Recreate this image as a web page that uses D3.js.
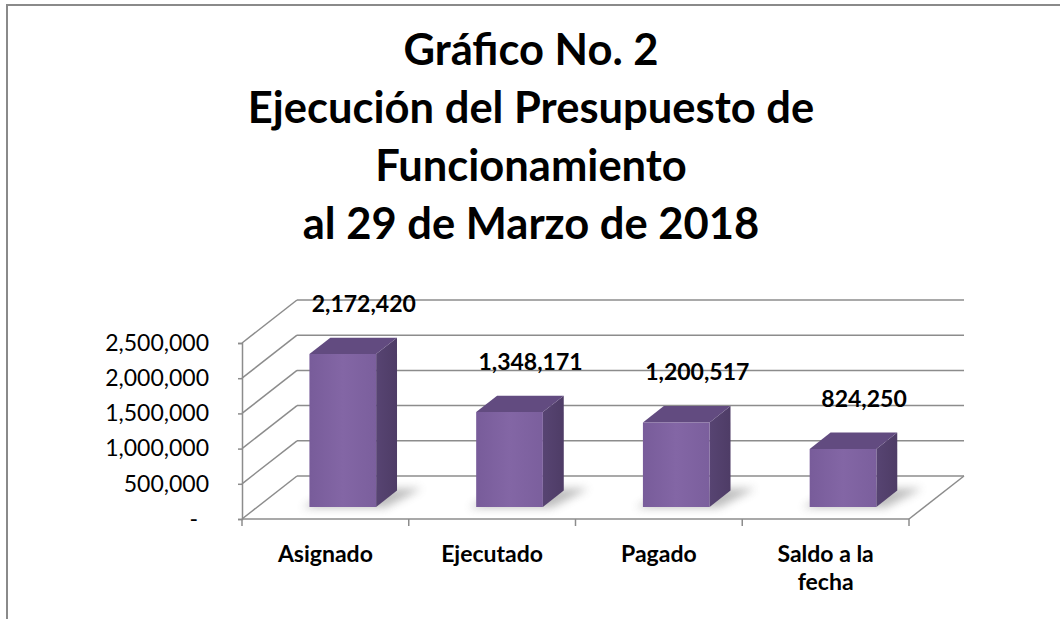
<!DOCTYPE html>
<html lang="es">
<head>
<meta charset="UTF-8">
<title>Gráfico No. 2</title>
<script src="https://d3js.org/d3.v7.min.js"></script>
<style>
  body { margin: 0; background: #fff; }
  svg text { font-family: Lato, "Open Sans", sans-serif; fill: #000; }
</style>
</head>
<body>
<script>
var categories = ["Asignado", "Ejecutado", "Pagado", "Saldo a la fecha"];
var values = [2172420, 1348171, 1200517, 824250];
var yTicks = [0, 500000, 1000000, 1500000, 2000000, 2500000];
var titleLines = ["Gráfico No. 2", "Ejecución del Presupuesto de", "Funcionamiento", "al 29 de Marzo de 2018"];

var width = 1060, height = 619;
// 3d depth of the floor / walls
var DX = 55, DY = 43;
// bar occupies this slice of the depth
var d0 = 0.28, d1 = 0.66;

var svg = d3.select("body").append("svg")
    .attr("width", width).attr("height", height);

var defs = svg.append("defs");
var g1 = defs.append("linearGradient").attr("id", "front");
g1.append("stop").attr("offset", "0%").attr("stop-color", "#785c9a");
g1.append("stop").attr("offset", "50%").attr("stop-color", "#8366a5");
g1.append("stop").attr("offset", "100%").attr("stop-color", "#7b5f9d");
var g2 = defs.append("linearGradient").attr("id", "side");
g2.append("stop").attr("offset", "0%").attr("stop-color", "#574472");
g2.append("stop").attr("offset", "100%").attr("stop-color", "#4e3c66");
defs.append("filter").attr("id", "blur")
    .attr("x", "-50%").attr("y", "-50%").attr("width", "200%").attr("height", "200%")
    .append("feGaussianBlur").attr("stdDeviation", 4);

// outer frame (only top and left edges are inside the picture)
svg.append("path")
    .attr("d", "M7,619 V5 H1060")
    .attr("fill", "none").attr("stroke", "#8a8a8a").attr("stroke-width", 2);

// title
svg.append("g").selectAll("text")
    .data(titleLines)
    .enter().append("text")
    .attr("x", 531)
    .attr("y", function(d, i) { return 65 + i * 58; })
    .attr("text-anchor", "middle")
    .attr("font-size", 43.5)
    .attr("font-weight", "bold")
    .text(function(d) { return d; });

var x = d3.scaleBand().domain(categories).range([242, 909]);
var y = d3.scaleLinear().domain([0, 2500000]).range([519, 343]);

function p(px, v, d) {
    return [px + d * DX, y(v) - d * DY];
}

var grid = svg.append("g")
    .attr("stroke", "#8c8c8c").attr("stroke-width", 1.5).attr("fill", "none");

// back wall lines
grid.selectAll(".back").data(yTicks).enter().append("line")
    .attr("x1", 242 + DX).attr("x2", 909 + DX)
    .attr("y1", function(d) { return y(d) - DY; })
    .attr("y2", function(d) { return y(d) - DY; });
// side wall lines
grid.selectAll(".side").data(yTicks).enter().append("line")
    .attr("x1", 242).attr("x2", 242 + DX)
    .attr("y1", function(d) { return y(d); })
    .attr("y2", function(d) { return y(d) - DY; });
// floor right edge
grid.append("line")
    .attr("x1", 909).attr("y1", y(0))
    .attr("x2", 909 + DX).attr("y2", y(0) - DY);

// y axis
var yAxis = d3.axisLeft(y)
    .tickValues(yTicks)
    .tickSize(4)
    .tickPadding(29)
    .tickFormat(function(d) { return d === 0 ? "-" : d3.format(",")(d); });
var ya = svg.append("g")
    .attr("transform", "translate(242,0)")
    .call(yAxis);
ya.select(".domain").attr("stroke", "#8c8c8c").attr("stroke-width", 1.5);
ya.selectAll(".tick line").attr("stroke", "#8c8c8c").attr("stroke-width", 1.5);
ya.selectAll(".tick text")
    .attr("font-size", 23)
    .attr("font-family", "Lato, sans-serif")
    .attr("fill", "#000")
    .attr("dx", function(d) { return d === 0 ? -11 : 0; });

// x axis line and ticks on band edges
var edges = categories.map(function(c) { return x(c); }).concat([x.range()[1]]);
var xa = svg.append("g").attr("stroke", "#8c8c8c").attr("stroke-width", 1.5);
xa.append("line")
    .attr("x1", 242).attr("x2", 909)
    .attr("y1", y(0)).attr("y2", y(0));
xa.selectAll(".tk").data(edges).enter().append("line")
    .attr("x1", function(d) { return d; }).attr("x2", function(d) { return d; })
    .attr("y1", y(0)).attr("y2", y(0) + 7);

// category labels, wrapped to the band width
svg.append("g").selectAll("text")
    .data(categories)
    .enter().append("text")
    .attr("text-anchor", "middle")
    .attr("font-size", 23)
    .attr("font-weight", "bold")
    .each(function(c) {
        var t = d3.select(this);
        var cx = x(c) + x.bandwidth() / 2;
        var words = c.split(" ");
        var lines = [], line = [];
        words.forEach(function(w) {
            line.push(w);
            t.text(line.join(" "));
            if (this.getComputedTextLength() > x.bandwidth() * 0.8 && line.length > 1) {
                line.pop();
                lines.push(line.join(" "));
                line = [w];
            }
        }, this);
        lines.push(line.join(" "));
        t.text(null);
        lines.forEach(function(l, i) {
            t.append("tspan").attr("x", cx).attr("y", 562 + i * 28).text(l);
        });
    });

// bars
var bw = x.bandwidth() * 0.4;
var bars = svg.append("g").selectAll("g")
    .data(categories)
    .enter().append("g");

bars.each(function(c, i) {
    var gb = d3.select(this);
    var v = values[i];
    var bx0 = x(c) + (x.bandwidth() - bw) / 2 + 2;
    var bx1 = bx0 + bw;
    var poly = function(pts) { return "M" + pts.map(function(q) { return q.join(","); }).join("L") + "Z"; };

    // soft shadow on the floor
    gb.append("path")
        .attr("d", poly([p(bx0 - 6, 0, d0 - 0.02), p(bx1 + 10, 0, d0 - 0.02), p(bx1 + 22, 0, d1 + 0.05), p(bx0 + 4, 0, d1 + 0.05)]))
        .attr("fill", "#6e6e6e").attr("opacity", 0.45)
        .attr("filter", "url(#blur)");

    gb.append("path")
        .attr("d", poly([p(bx1, 0, d0), p(bx1, 0, d1), p(bx1, v, d1), p(bx1, v, d0)]))
        .attr("fill", "url(#side)");
    gb.append("path")
        .attr("d", poly([p(bx0, v, d0), p(bx1, v, d0), p(bx1, v, d1), p(bx0, v, d1)]))
        .attr("fill", "#624b80");
    gb.append("path")
        .attr("d", poly([p(bx0, 0, d0), p(bx1, 0, d0), p(bx1, v, d0), p(bx0, v, d0)]))
        .attr("fill", "url(#front)");

    // value label
    var top = p(bx0, v, d0);
    gb.append("text")
        .attr("x", top[0] + bw / 2 + 21)
        .attr("y", top[1] - 42)
        .attr("text-anchor", "middle")
        .attr("font-size", 23)
        .attr("font-weight", "bold")
        .text(d3.format(",")(v));
});
</script>
</body>
</html>
